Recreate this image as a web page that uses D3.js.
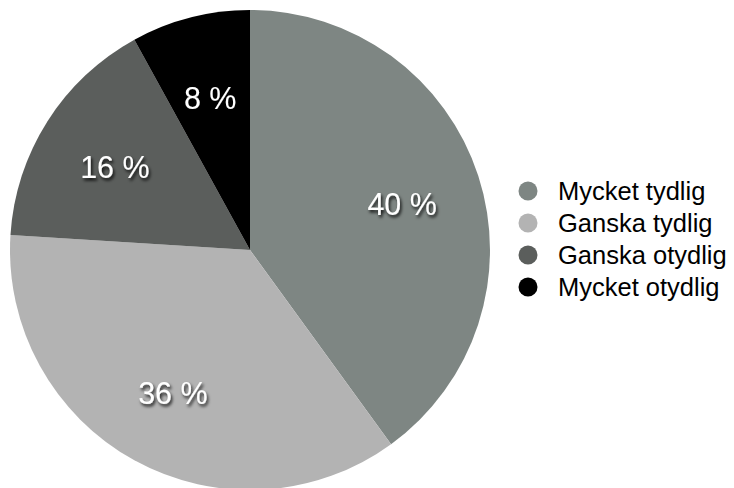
<!DOCTYPE html>
<html><head><meta charset="utf-8">
<script src="https://cdn.jsdelivr.net/npm/d3@7"></script>
<style>html,body{margin:0;padding:0;background:#fff;}svg{display:block;}</style>
</head><body>
<script>
const categories = ["Mycket tydlig", "Ganska tydlig", "Ganska otydlig", "Mycket otydlig"];
const values = [40, 36, 16, 8];
const labels = ["40 %", "36 %", "16 %", "8 %"];
const colors = ["#7e8683", "#b3b3b3", "#5b5e5c", "#000000"];

const W = 734, H = 488;
const cx = 250, cy = 250, R = 240;
const svg = d3.select("body").append("svg").attr("width", W).attr("height", H);

const defs = svg.append("defs");
const f = defs.append("filter").attr("id", "sh").attr("x", "-20%").attr("y", "-20%").attr("width", "140%").attr("height", "160%");
f.append("feDropShadow").attr("dx", 1.5).attr("dy", 2.5).attr("stdDeviation", 1.5).attr("flood-color", "#000").attr("flood-opacity", 0.85);

const pie = d3.pie().sort(null).value(d => d)(values);
const arc = d3.arc().innerRadius(0).outerRadius(R);
const labelArc = d3.arc().innerRadius(160).outerRadius(160);

const g = svg.append("g").attr("transform", `translate(${cx},${cy})`);
g.selectAll("path").data(pie).join("path")
  .attr("d", arc).attr("fill", (d, i) => colors[i]);

g.selectAll("text").data(pie).join("text")
  .attr("transform", d => { const c = labelArc.centroid(d); return `translate(${c[0]},${c[1] + 3})`; })
  .attr("text-anchor", "middle").attr("dominant-baseline", "central")
  .attr("font-family", "Liberation Sans, Arial, Helvetica, sans-serif")
  .attr("font-size", 30.5).attr("fill", "#fff")
  .attr("filter", "url(#sh)")
  .text((d, i) => labels[i]);

const y = d3.scalePoint().domain(categories).range([191, 287]);
const lg = svg.append("g");
const items = lg.selectAll("g").data(categories).join("g")
  .attr("transform", d => `translate(528,${y(d)})`);
items.append("circle").attr("r", 9.5).attr("fill", (d, i) => colors[i]);
items.append("text").attr("x", 30).attr("dominant-baseline", "central")
  .attr("font-family", "Liberation Sans, Arial, Helvetica, sans-serif")
  .attr("font-size", 25.5).attr("fill", "#000").text(d => d);
</script>
</body></html>
